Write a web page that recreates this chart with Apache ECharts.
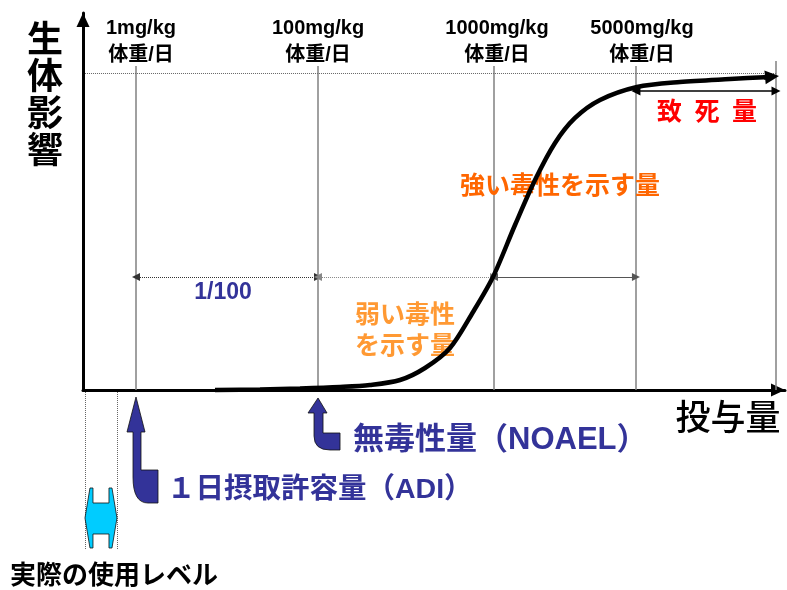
<!DOCTYPE html>
<html><head><meta charset="utf-8">
<script src="https://cdn.jsdelivr.net/npm/echarts@6/dist/echarts.min.js"></script>
<style>html,body{margin:0;padding:0;background:#fff}#c{width:787px;height:590px}</style>
</head><body><div id="c"></div>
<script>
// ---- data (schematic dose position 0-100, effect 0-100) ----
const curveX = [18.80, 25.21, 30.91, 36.61, 40.88, 45.16, 48.72, 52.28, 55.56, 58.40, 61.54, 64.39, 67.24, 70.09, 73.65, 78.92, 85.04, 92.17, 97.86];
const curveY = [0, 0.13, 0.40, 0.80, 1.33, 2.65, 5.84, 11.14, 20.69, 29.97, 43.77, 55.70, 65.52, 72.15, 76.92, 80.37, 81.70, 82.49, 83.02];
const curveTip = [[97.0, 82.9], [98.15, 83.1]];
const guideX = [7.55, 33.48, 58.55, 78.77, 98.72];
const guideTopY = [85.94, 85.94, 85.94, 85.94, 87.27];
const doseLabels = ['1mg/kg\n体重/日', '100mg/kg\n体重/日', '1000mg/kg\n体重/日', '5000mg/kg\n体重/日'];
const doseLabelX = [8.26, 33.48, 58.97, 79.63];
const doseLabelY = [92.4, 92.4, 92.4, 92.4];
const ceilingX = [0.28, 98.72];
const ceilingY = 84.08;
const rangeX = [7.55, 33.48, 58.55, 78.77];
const rangeY = 29.97;
const lethalX = [78.77, 98.72];
const lethalY = 79.31;
const usageX = [0.28, 4.84];
const usageY = [-0.53, -42.44];
const usageArrow = [2.56, -33.95];
const adiArrow = [7.55, -1.86];
const noaelArrow = [33.48, -2.12];
const annTexts = ['致\u2002死\u2002量', '強い毒性を示す量', '弱い毒性\nを示す量', '1/100', '無毒性量（NOAEL）', '１日摂取許容量（ADI）', '実際の使用レベル', '生\n体\n影\n響', '投与量'];
const annX = [88.89, 67.95, 45.87, 19.94, 38.46, 11.97, -10.40, -5.41, 91.88];
const annY = [73.47, 53.85, 15.38, 25.73, -13.26, -26.53, -49.60, 77.45, -7.96];

// ---- styles ----
const FONT = "'Liberation Sans','Noto Sans CJK JP',sans-serif";
const annStyles = [
  {color: '#ff0000', fontSize: 25, fontWeight: 'bold'},
  {color: '#ff6600', fontSize: 25, fontWeight: 'bold'},
  {color: '#ff9933', fontSize: 25, fontWeight: 'bold', lineHeight: 31},
  {color: '#333399', fontSize: 23, fontWeight: 'bold'},
  {color: '#333399', fontSize: 31, fontWeight: 'bold', align: 'left'},
  {color: '#333399', fontSize: 28.5, fontWeight: 'bold', align: 'left'},
  {color: '#000000', fontSize: 26, fontWeight: 'bold', align: 'left'},
  {color: '#000000', fontSize: 36, fontWeight: 'bold', lineHeight: 37},
  {color: '#000000', fontSize: 35, fontWeight: 500}
];

function shapeSeries(anchor, pathData, fill) {
  return {
    type: 'custom', coordinateSystem: 'cartesian2d', clip: false, silent: true,
    data: [anchor],
    renderItem: function (params, api) {
      const p = api.coord([api.value(0), api.value(1)]);
      return {type: 'path', x: p[0], y: p[1], shape: {pathData: pathData},
        style: {fill: fill, stroke: '#111', lineWidth: 0.8}};
    }
  };
}
function seg(a, b) { return {coords: [a, b]}; }

const chart = echarts.init(document.getElementById('c'), null, {renderer: 'canvas'});
chart.setOption({
  animation: false,
  backgroundColor: '#ffffff',
  grid: {left: 83, right: 2, top: 13, bottom: 200},
  xAxis: {type: 'value', min: 0, max: 100,
    axisLine: {show: true, lineStyle: {color: '#000', width: 3}, symbol: ['none', 'triangle'], symbolSize: [13, 14], symbolOffset: [0, -7]},
    axisTick: {show: false}, axisLabel: {show: false}, splitLine: {show: false}},
  yAxis: {type: 'value', min: 0, max: 100,
    axisLine: {show: true, lineStyle: {color: '#000', width: 3}, symbol: ['none', 'triangle'], symbolSize: [13, 14], symbolOffset: [0, -7]},
    axisTick: {show: false}, axisLabel: {show: false}, splitLine: {show: false}},
  series: [
    {type: 'lines', coordinateSystem: 'cartesian2d', clip: false, silent: true, symbol: 'none',
      lineStyle: {color: '#808080', width: 1.5, opacity: 1},
      data: guideX.map((x, i) => seg([x, 0], [x, guideTopY[i]]))},
    {type: 'lines', coordinateSystem: 'cartesian2d', clip: false, silent: true, symbol: 'none',
      lineStyle: {color: '#666', width: 1, type: 'dotted', opacity: 1},
      data: [seg([ceilingX[0], ceilingY], [ceilingX[1], ceilingY])]},
    {type: 'lines', coordinateSystem: 'cartesian2d', clip: false, silent: true, symbol: 'none',
      lineStyle: {color: '#666', width: 1, type: 'dotted', opacity: 1},
      data: usageX.map(x => seg([x, usageY[0]], [x, usageY[1]]))},
    {type: 'lines', coordinateSystem: 'cartesian2d', clip: false, silent: true,
      symbol: ['triangle', 'triangle'], symbolSize: 8,
      lineStyle: {color: '#333', width: 1, type: 'dotted', opacity: 1},
      data: [seg([rangeX[0], rangeY], [rangeX[1], rangeY])]},
    {type: 'lines', coordinateSystem: 'cartesian2d', clip: false, silent: true,
      symbol: ['triangle', 'triangle'], symbolSize: 8,
      lineStyle: {color: '#888', width: 1, type: 'dotted', opacity: 1},
      data: [seg([rangeX[1], rangeY], [rangeX[2], rangeY])]},
    {type: 'lines', coordinateSystem: 'cartesian2d', clip: false, silent: true,
      symbol: ['triangle', 'triangle'], symbolSize: 8,
      lineStyle: {color: '#555', width: 1.2, opacity: 1},
      data: [seg([rangeX[2], rangeY], [rangeX[3], rangeY])]},
    {type: 'lines', coordinateSystem: 'cartesian2d', clip: false, silent: true,
      symbol: ['triangle', 'triangle'], symbolSize: 9,
      lineStyle: {color: '#000', width: 1.5, opacity: 1},
      data: [seg([lethalX[0], lethalY], [lethalX[1], lethalY])]},
    {type: 'line', clip: false, silent: true, showSymbol: false, symbol: 'none',
      smooth: 0.3,
      lineStyle: {color: '#000', width: 4.5},
      data: curveX.map((x, i) => [x, curveY[i]])},
    {type: 'lines', coordinateSystem: 'cartesian2d', clip: false, silent: true,
      symbol: ['none', 'triangle'], symbolSize: 14,
      lineStyle: {color: '#000', width: 4.5, opacity: 1},
      data: [seg(curveTip[0], curveTip[1])]},
    shapeSeries(adiArrow, 'M0 0 L9 35 L5 35 L5 73 L22 73 L22 106 L12 106 Q-3 106 -3 80 L-3 35 L-9 35 Z', '#333399'),
    shapeSeries(noaelArrow, 'M0 0 L9 15 L5 15 L5 35 L22 35 L22 52 L12 52 Q-4 52 -4 38 L-4 15 L-10 15 Z', '#333399'),
    shapeSeries(usageArrow, 'M-16 0 L-11 -30 L-8 -30 L-8 -15 L8 -15 L8 -30 L11 -30 L16 0 L11 30 L8 30 L8 16 L-8 16 L-8 30 L-11 30 Z', '#00ccff'),
    {type: 'scatter', clip: false, silent: true, symbolSize: 0, itemStyle: {opacity: 1},
      data: doseLabels.map((t, i) => ({value: [doseLabelX[i], doseLabelY[i]],
        label: {show: true, position: 'inside', formatter: t, color: '#000', fontSize: 20, fontWeight: 'bold', lineHeight: 27, fontFamily: FONT, textBorderWidth: 0, opacity: 1}}))},
    {type: 'scatter', clip: false, silent: true, symbolSize: 0, itemStyle: {opacity: 1},
      data: annTexts.map((t, i) => ({value: [annX[i], annY[i]],
        label: Object.assign({show: true, position: 'inside', formatter: t, fontFamily: FONT, textBorderWidth: 0, opacity: 1}, annStyles[i])}))}
  ]
});
</script></body></html>
